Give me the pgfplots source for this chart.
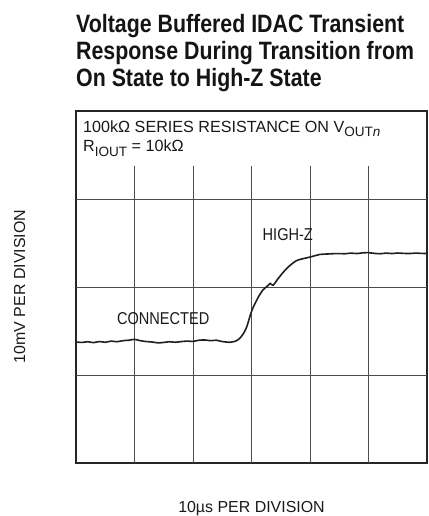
\documentclass[border=0pt]{standalone}
\usepackage{fontspec}
\setmainfont{Liberation Sans}[FakeStretch=0.85]
\newfontfamily\labelfont{Liberation Sans}
\usepackage{pgfplots}
\pgfplotsset{compat=1.18}
\begin{document}
\begin{tikzpicture}[x=1bp,y=1bp]
\useasboundingbox (0,0) rectangle (428,516);
\begin{axis}[
  at={(76bp,53bp)}, anchor=south west,
  width=351bp, height=352bp, scale only axis,
  xmin=0, xmax=60, ymin=0, ymax=40,
  xtick=\empty, ytick=\empty,
  axis line style={line width=1.1bp, black!85},
]
\foreach \xx in {10,20,30,40,50} {
  \edef\tmp{\noexpand\draw[black!70, line width=0.8bp] (axis cs:\xx,0) -- (axis cs:\xx,33.75);}\tmp
}
\foreach \yy in {10,20,30} {
  \edef\tmp{\noexpand\draw[black!70, line width=0.8bp] (axis cs:0,\yy) -- (axis cs:60,\yy);}\tmp
}
\addplot[black!88, line width=1.6bp, smooth, tension=0.4] coordinates {
(0,13.75) (1,13.70) (2,13.78) (3,13.68) (4,13.80) (5,13.72) (6,13.85) (7,13.78)
(8,13.90) (9,13.95) (10,14.05) (11,13.90) (12,13.80) (13,13.75) (14,13.65)
(15,13.70) (16,13.78) (17,13.72) (18,13.80) (19,13.85) (20,13.82) (21,13.95)
(22,13.98) (23,13.90) (24,13.95) (25,13.80) (26.3,13.72) (27.3,13.85) (28.0,14.17)
(28.7,14.8) (29.2,15.5) (30.1,17.4) (31.2,18.9) (32.0,19.7) (32.7,20.1) (33.2,20.4)
(33.7,20.2) (34.6,21.0) (36.0,22.1) (37.7,23.0) (40.0,23.4) (41.7,23.7) (43,23.75)
(44.6,23.8) (46,23.78) (47,23.85) (48,23.80) (49,23.88) (50,23.90) (51,23.82)
(52,23.78) (53,23.85) (54,23.80) (55,23.86) (56,23.82) (57,23.80) (58,23.85)
(59,23.82) (60,23.80)
};
\node[black!90, inner sep=0pt, font=\fontsize{17.2}{18}\selectfont] at (axis cs:14.9,16.4) {CONNECTED};
\node[black!90, inner sep=0pt, font=\fontsize{17.2}{18}\selectfont] at (axis cs:36.2,26.0) {HIGH-Z};
\end{axis}
\node[anchor=base west, inner sep=0pt, black!90, font=\labelfont\fontsize{16.2}{18}\selectfont] at (83,383.3)
  {100kΩ SERIES RESISTANCE ON V\raisebox{-4.3bp}{\fontsize{13.6}{15}\selectfont OUT\textit{n}}};
\node[anchor=base west, inner sep=0pt, black!90, font=\labelfont\fontsize{16.2}{18}\selectfont] at (83,364)
  {R\raisebox{-4.3bp}{\fontsize{13.6}{15}\selectfont IOUT} = 10kΩ};
\node[anchor=base west, inner sep=0pt, black!92, font=\fontsize{25.2}{27}\bfseries] at (76,483) {Voltage Buffered IDAC Transient};
\node[anchor=base west, inner sep=0pt, black!92, font=\fontsize{25.2}{27}\bfseries] at (76,456) {Response During Transition from};
\node[anchor=base west, inner sep=0pt, black!92, font=\fontsize{25.2}{27}\bfseries] at (76,429) {On State to High-Z State};
\node[anchor=base, rotate=90, inner sep=0pt, black!90, font=\labelfont\fontsize{16}{17}\selectfont] at (25,229.5) {10mV PER DIVISION};
\node[anchor=base, inner sep=0pt, black!90, font=\labelfont\fontsize{16}{17}\selectfont] at (251.5,3) {10µs PER DIVISION};
\end{tikzpicture}
\end{document}
